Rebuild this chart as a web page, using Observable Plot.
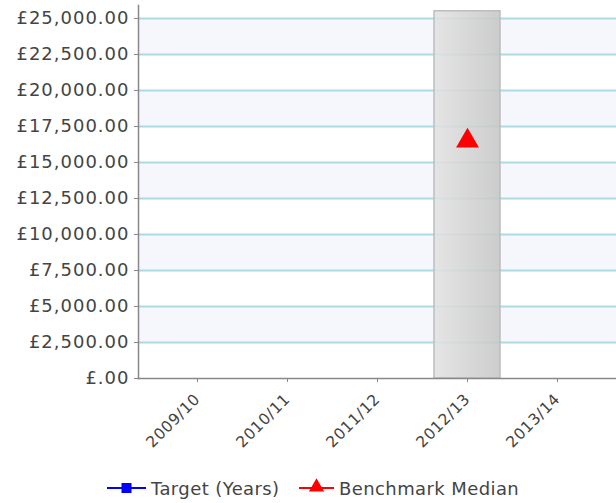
<!DOCTYPE html>
<html>
<head>
<meta charset="utf-8">
<script src="https://cdn.jsdelivr.net/npm/d3@7"></script>
<script src="https://cdn.jsdelivr.net/npm/@observablehq/plot@0.6"></script>
<style>
  html, body { margin: 0; padding: 0; background: #fff; }
  #chart { width: 616px; }
  #legend { position: relative; height: 33px; font-family: "DejaVu Sans", Verdana, sans-serif; font-size: 18px; letter-spacing: 0.4px; color: #444; }
  #legend .item { position: absolute; top: 7px; display: flex; align-items: center; }
  #legend svg { display: block; }
  #chart svg g[aria-label="y-axis tick label"] text { letter-spacing: 1px; }
  #chart svg g[aria-label="x-axis tick label"] text { letter-spacing: 0.6px; }
</style>
</head>
<body>
<div id="chart"></div>
<div id="legend"></div>
<script>
const years = ["2009/10", "2010/11", "2011/12", "2012/13", "2013/14"];
const highlightYear = ["2012/13"];
const highlightTop = [25500];
const benchmarkYears = ["2012/13"];
const benchmarkValues = [16500];
const yTicks = [0, 2500, 5000, 7500, 10000, 12500, 15000, 17500, 20000, 22500, 25000];
const bandLows = [2500, 7500, 12500, 17500, 22500];
const bandHighs = [5000, 10000, 15000, 20000, 25000];
const seriesNames = ["Target (Years)", "Benchmark Median"];
const seriesColors = ["#0000ff", "#ff0000"];

const bands = bandLows.map((lo, i) => ({lo, hi: bandHighs[i]}));
const highlight = highlightYear.map((y, i) => ({year: y, value: highlightTop[i]}));
const bench = benchmarkYears.map((y, i) => ({year: y, value: benchmarkValues[i]}));

const fmt = d => d === 0 ? "£.00" : "£" + d3.format(",.2f")(d);

const gradient = () => {
  const defs = d3.create("svg:defs");
  const g = defs.append("linearGradient").attr("id", "hlgrad").attr("x1", "0").attr("x2", "1").attr("y1", "0").attr("y2", "0");
  g.append("stop").attr("offset", "0").attr("stop-color", "#e2e2e2");
  g.append("stop").attr("offset", "1").attr("stop-color", "#c6c6c6");
  return defs.node();
};

const plot = Plot.plot({
  width: 616,
  height: 470,
  marginLeft: 138,
  marginRight: 0,
  marginTop: 5,
  marginBottom: 92,
  style: {fontFamily: "'DejaVu Sans', Verdana, sans-serif", fontSize: "17px", color: "#444", background: "#fff"},
  x: {domain: years, padding: 0.264, label: null},
  y: {domain: [0, 25900], label: null},
  marks: [
    gradient,
    Plot.rectY(bands, {y1: "lo", y2: "hi", fill: "#f5f7fd"}),
    Plot.ruleY(yTicks.filter(d => d > 0), {stroke: "#abdbe4", strokeWidth: 2}),
    Plot.barY(highlight, {x: "year", y: "value", fill: "url(#hlgrad)", fillOpacity: 0.88, stroke: "#bdbdbd", strokeWidth: 1.5}),
    Plot.dot(bench, {x: "year", y: "value", symbol: "triangle", r: 8.5, fill: "#ff0000", stroke: "none"}),
    Plot.axisY({ticks: yTicks, tickFormat: fmt, tickSize: 4, tickPadding: 5, stroke: "#888", fontSize: 18, fill: "#444", ariaLabel: "y-axis"}),
    Plot.axisX({tickSize: 4, tickRotate: -45, tickPadding: 14, stroke: "#888", fontSize: 15.5, fill: "#444", ariaLabel: "x-axis"}),
    Plot.frame({anchor: "left", stroke: "#888", strokeWidth: 1.5}),
    Plot.frame({anchor: "bottom", stroke: "#888", strokeWidth: 1.5})
  ]
});
document.getElementById("chart").appendChild(plot);

// Legend
const legend = d3.select("#legend");
const positions = [107, 299];
seriesNames.forEach((name, i) => {
  const w = i === 0 ? 39 : 35;
  const item = legend.append("div").attr("class", "item").style("left", positions[i] + "px");
  const s = item.append("svg").attr("width", w).attr("height", 22);
  s.append("line").attr("x1", 0).attr("x2", w).attr("y1", 11).attr("y2", 11).attr("stroke", seriesColors[i]).attr("stroke-width", 2);
  if (i === 0) {
    s.append("rect").attr("x", w / 2 - 5).attr("y", 6).attr("width", 10).attr("height", 10).attr("fill", seriesColors[i]);
  } else {
    s.append("path").attr("d", d3.symbol(d3.symbolTriangle, 100)()).attr("transform", `translate(${w / 2},10)`).attr("fill", seriesColors[i]);
  }
  item.append("span").text(name).style("margin-left", "5px");
});
</script>
</body>
</html>
